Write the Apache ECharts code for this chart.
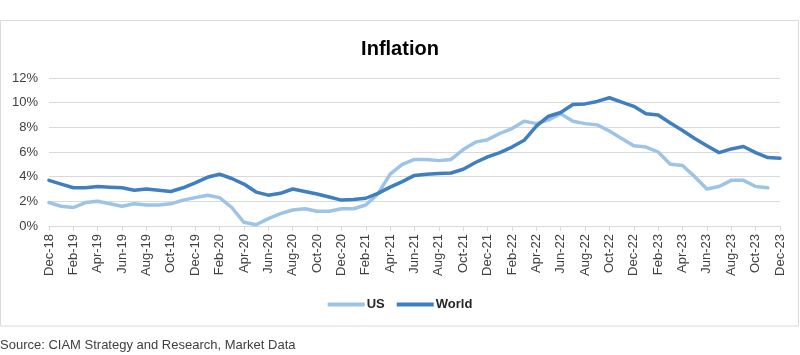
<!DOCTYPE html>
<html>
<head>
<meta charset="utf-8">
<script src="https://cdn.jsdelivr.net/npm/echarts@6/dist/echarts.min.js"></script>
<style>
html,body{margin:0;padding:0;background:#fff;}
#c{width:800px;height:355px;}
</style>
</head>
<body>
<div id="c"></div>
<script>
const months = ['Dec-18','Jan-19','Feb-19','Mar-19','Apr-19','May-19','Jun-19','Jul-19','Aug-19','Sep-19','Oct-19','Nov-19',
'Dec-19','Jan-20','Feb-20','Mar-20','Apr-20','May-20','Jun-20','Jul-20','Aug-20','Sep-20','Oct-20','Nov-20',
'Dec-20','Jan-21','Feb-21','Mar-21','Apr-21','May-21','Jun-21','Jul-21','Aug-21','Sep-21','Oct-21','Nov-21',
'Dec-21','Jan-22','Feb-22','Mar-22','Apr-22','May-22','Jun-22','Jul-22','Aug-22','Sep-22','Oct-22','Nov-22',
'Dec-22','Jan-23','Feb-23','Mar-23','Apr-23','May-23','Jun-23','Jul-23','Aug-23','Sep-23','Oct-23','Nov-23','Dec-23'];
const usValues = [1.9,1.6,1.5,1.9,2.0,1.8,1.6,1.8,1.7,1.7,1.8,2.1,
2.3,2.5,2.3,1.5,0.3,0.1,0.6,1.0,1.3,1.4,1.2,1.2,
1.4,1.4,1.7,2.6,4.2,5.0,5.4,5.4,5.3,5.4,6.2,6.8,
7.0,7.5,7.9,8.5,8.3,8.6,9.1,8.5,8.3,8.2,7.7,7.1,
6.5,6.4,6.0,5.0,4.9,4.0,3.0,3.2,3.7,3.7,3.2,3.1,null];
const worldValues = [3.7,3.4,3.1,3.1,3.2,3.15,3.1,2.9,3.0,2.9,2.8,3.1,
3.5,3.95,4.2,3.85,3.4,2.75,2.5,2.65,3.0,2.8,2.6,2.35,
2.1,2.15,2.25,2.65,3.15,3.6,4.1,4.2,4.25,4.3,4.6,5.15,
5.6,5.95,6.4,6.95,8.1,8.9,9.2,9.85,9.9,10.1,10.4,10.05,
9.7,9.1,9.0,8.35,7.75,7.1,6.5,5.95,6.25,6.45,5.95,5.55,5.5];
const yTicks = [0,2,4,6,8,10,12];

const FONT = '"Liberation Sans", Arial, sans-serif';
const chart = echarts.init(document.getElementById('c'), null, {renderer:'canvas'});
chart.setOption({
  animation:false,
  backgroundColor:'#fff',
  textStyle:{fontFamily:FONT},
  title:{
    text:'Inflation', left:'center', top:34,
    textStyle:{fontFamily:FONT, fontSize:20, fontWeight:'bold', color:'#000'}
  },
  graphic:[
    {type:'rect', shape:{x:0.5, y:20.5, width:798, height:305.5},
     style:{fill:'none', stroke:'#d9d9d9', lineWidth:1}, silent:true, z:-1},
    {type:'text', left:0, top:339,
     style:{text:'Source: CIAM Strategy and Research, Market Data', fontFamily:FONT, fontSize:13, fill:'#404040'}}
  ],
  legend:{
    top:293, left:'center',
    itemWidth:37, itemHeight:4, itemGap:12,
    icon:'rect',
    textStyle:{fontFamily:FONT, fontSize:13, fontWeight:'bold', color:'#262626', padding:[0,0,0,-3]},
    data:['US','World']
  },
  grid:{left:49, right:20, top:78, height:148, containLabel:false},
  xAxis:{
    type:'category', data:months, boundaryGap:false,
    axisLine:{lineStyle:{color:'#d9d9d9'}},
    axisTick:{show:true, interval:1, length:5, lineStyle:{color:'#d9d9d9'}},
    axisLabel:{interval:1, rotate:90, fontFamily:FONT, fontSize:13, color:'#404040', margin:8},
    splitLine:{show:false}
  },
  yAxis:{
    type:'value', min:yTicks[0], max:yTicks[yTicks.length-1], interval:2,
    axisLine:{show:false}, axisTick:{show:false},
    axisLabel:{formatter:'{value}%', fontFamily:FONT, fontSize:13, color:'#404040', margin:11},
    splitLine:{lineStyle:{color:'#d9d9d9', width:1}}
  },
  series:[
    {name:'US', type:'line', data:usValues, symbol:'none', smooth:false,
     lineStyle:{color:'#9dc3e6', width:3.5, cap:'round', join:'round'}, itemStyle:{color:'#9dc3e6'}},
    {name:'World', type:'line', data:worldValues, symbol:'none', smooth:false,
     lineStyle:{color:'#3f7fbf', width:3.5, cap:'round', join:'round'}, itemStyle:{color:'#3f7fbf'}}
  ]
});
</script>
</body>
</html>
